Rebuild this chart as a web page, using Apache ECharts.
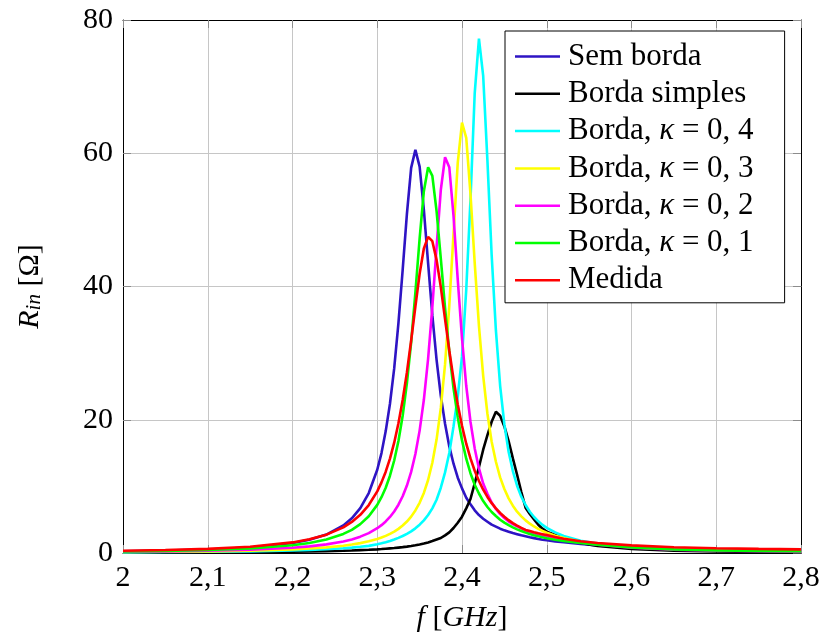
<!DOCTYPE html>
<html>
<head>
<meta charset="utf-8">
<script src="https://cdn.jsdelivr.net/npm/echarts@6/dist/echarts.min.js"></script>
<style>
  html, body { margin: 0; background: #fff; }
  #chart { width: 824px; height: 639px; }
</style>
</head>
<body>
<div id="chart"></div>
<script>
  // frequency samples [GHz]
  const freq = [2.00, 2.05, 2.10, 2.15, 2.20, 2.22, 2.24, 2.26, 2.27, 2.28, 2.29,
    2.30, 2.305, 2.31, 2.315, 2.32, 2.325, 2.33, 2.335, 2.34, 2.345,
    2.35, 2.355, 2.36, 2.365, 2.37, 2.375, 2.38, 2.385, 2.39, 2.395,
    2.40, 2.405, 2.41, 2.415, 2.42, 2.425, 2.43, 2.435, 2.44, 2.445,
    2.45, 2.455, 2.46, 2.465, 2.47, 2.475, 2.48, 2.485, 2.49, 2.495,
    2.50, 2.51, 2.52, 2.54, 2.56, 2.60, 2.65, 2.70, 2.75, 2.80]

  // R_in [ohm]
  const semBorda = [0.27, 0.37, 0.53, 0.83, 1.49, 1.98, 2.77, 4.13, 5.2, 6.73, 9.0,
    12.5, 15.0, 18.3, 22.4, 27.7, 34.5, 42.5, 50.9, 57.8, 60.5,
    58.0, 51.5, 43.5, 35.7, 29.0, 23.6, 19.4, 16.0, 13.4, 11.3,
    9.7, 8.3, 7.3, 6.4, 5.7, 5.15, 4.7, 4.25, 3.95, 3.65,
    3.4, 3.2, 3.0, 2.83, 2.65, 2.5, 2.35, 2.23, 2.11, 2.0,
    1.92, 1.75, 1.62, 1.35, 1.14, 0.75, 0.48, 0.34, 0.26, 0.2]
  const bordaSimples = [0.06, 0.08, 0.1, 0.13, 0.19, 0.23, 0.28, 0.34, 0.38, 0.43, 0.48,
    0.55, 0.59, 0.64, 0.69, 0.74, 0.81, 0.88, 0.96, 1.05, 1.16,
    1.28, 1.42, 1.59, 1.79, 2.02, 2.25, 2.65, 3.1, 3.75, 4.55,
    5.45, 6.7, 8.1, 10.45, 12.9, 15.5, 17.7, 19.7, 21.2, 20.6,
    19.0, 16.8, 14.2, 11.75, 9.15, 6.8, 5.85, 5.05, 4.25, 3.65,
    3.2, 2.72, 2.3, 1.5, 1.05, 0.62, 0.36, 0.24, 0.17, 0.12]
  const kappa04 = [0.1, 0.14, 0.18, 0.25, 0.38, 0.46, 0.57, 0.71, 0.81, 0.93, 1.07,
    1.3, 1.45, 1.62, 1.8, 2.02, 2.27, 2.55, 2.88, 3.25, 3.7,
    4.25, 4.9, 5.7, 6.7, 8.0, 9.8, 12.1, 15.0, 19.0, 23.5,
    29.5, 39.5, 53.0, 69.0, 77.2, 71.6, 58.9, 44.7, 33.4, 25.1,
    19.3, 15.2, 12.3, 10.1, 8.45, 7.2, 6.2, 5.4, 4.75, 4.22,
    3.78, 3.1, 2.55, 1.85, 1.42, 0.92, 0.6, 0.45, 0.35, 0.3]
  const kappa03 = [0.14, 0.18, 0.24, 0.35, 0.54, 0.67, 0.84, 1.1, 1.27, 1.48, 1.75,
    2.1, 2.32, 2.57, 2.87, 3.21, 3.62, 4.12, 4.72, 5.46, 6.38,
    7.53, 9.02, 10.96, 13.54, 17.02, 21.78, 28.3, 37.1, 47.9, 58.6,
    64.6, 62.3, 53.9, 43.5, 34.1, 26.6, 20.9, 16.7, 13.7, 11.35,
    9.6, 8.2, 7.1, 6.2, 5.5, 4.9, 4.4, 3.98, 3.62, 3.31,
    3.04, 2.6, 2.25, 1.7, 1.35, 0.88, 0.58, 0.44, 0.35, 0.3]
  const kappa02 = [0.18, 0.24, 0.33, 0.49, 0.79, 0.99, 1.29, 1.73, 2.04, 2.45, 2.99,
    3.72, 4.18, 4.74, 5.41, 6.23, 7.25, 8.52, 10.12, 12.17, 14.85,
    18.37, 23.0, 29.15, 36.9, 45.9, 54.5, 59.4, 57.9, 50.6, 41.0,
    32.2, 25.1, 19.7, 15.7, 12.69, 10.42, 8.9, 7.57, 6.6, 5.84,
    5.24, 4.72, 4.34, 3.99, 3.7, 3.41, 3.16, 2.95, 2.76, 2.6,
    2.45, 2.16, 1.92, 1.54, 1.24, 0.8, 0.5, 0.36, 0.28, 0.22]
  const kappa01 = [0.23, 0.32, 0.45, 0.68, 1.16, 1.5, 2.02, 2.86, 3.48, 4.33, 5.51,
    7.22, 8.37, 9.8, 11.6, 13.88, 16.8, 20.6, 25.5, 31.6, 39.1,
    47.2, 54.3, 57.9, 56.6, 51.3, 44.2, 36.8, 30.2, 24.7, 20.35,
    16.9, 14.15, 11.98, 10.24, 8.93, 7.8, 6.9, 6.15, 5.55, 5.0,
    4.55, 4.18, 3.85, 3.55, 3.3, 3.06, 2.85, 2.67, 2.5, 2.35,
    2.22, 1.99, 1.8, 1.5, 1.25, 0.85, 0.55, 0.4, 0.32, 0.27]
  const medida = [0.33, 0.44, 0.62, 0.94, 1.59, 2.06, 2.75, 3.85, 4.66, 5.73, 7.2,
    9.25, 10.6, 12.2, 14.17, 16.56, 19.47, 22.97, 27.1, 31.9, 37.0,
    41.9, 45.7, 47.45, 46.8, 44.0, 39.9, 35.1, 30.4, 26.1, 22.3,
    19.1, 16.4, 14.2, 12.34, 10.8, 9.5, 8.41, 7.48, 6.7, 6.02,
    5.44, 4.93, 4.49, 4.11, 3.77, 3.47, 3.3, 3.12, 2.95, 2.82,
    2.69, 2.39, 2.15, 1.77, 1.5, 1.14, 0.87, 0.72, 0.62, 0.55]

  const names = ['Sem borda', 'Borda simples', 'Borda, κ = 0, 4', 'Borda, κ = 0, 3',
    'Borda, κ = 0, 2', 'Borda, κ = 0, 1', 'Medida']
  const colors = ['#2e14c4', '#000000', '#00ffff', '#ffff00', '#ff00ff', '#00ff00', '#ff0000']
  const values = [semBorda, bordaSimples, kappa04, kappa03, kappa02, kappa01, medida]

  const FONT = 'Liberation Serif'
  const GRID_COLOR = '#c6c6c6'

  let series = values.map((v, i) => ({
    type: 'line',
    name: names[i],
    data: freq.map((f, j) => [f, v[j]]),
    color: colors[i],
    showSymbol: false,
    symbol: 'none',
    smooth: false,
    lineStyle: { width: 2.6, color: colors[i] },
    itemStyle: { color: colors[i] },
    z: 3 + i
  }))

  let tick = { show: true, inside: true, length: 8, lineStyle: { color: '#8c8c8c', width: 1 } }
  let frame = { show: true, onZero: false, lineStyle: { color: '#000', width: 1 } }

  let chart = echarts.init(document.getElementById('chart'))
  chart.setOption({
    animation: false,
    backgroundColor: '#fff',
    grid: { left: 123, right: 23, top: 20, bottom: 86, containLabel: false },
    legend: {
      left: 505,
      top: 31,
      orient: 'vertical',
      data: names,
      icon: 'rect',
      itemWidth: 45,
      itemHeight: 2.5,
      itemGap: 6.3,
      padding: [10, 31, 7, 10],
      borderColor: '#000',
      borderWidth: 1,
      backgroundColor: '#fff',
      selectedMode: false,
      formatter: name => name.replace('κ', '{k|κ}'),
      textStyle: {
        fontFamily: FONT,
        fontSize: 31,
        lineHeight: 30,
        color: '#000',
        padding: [0, 0, 0, 3],
        rich: {
          k: { fontFamily: FONT, fontSize: 31, fontStyle: 'italic', color: '#000', lineHeight: 30 }
        }
      }
    },
    xAxis: [{
      type: 'value',
      min: 2,
      max: 2.8,
      interval: 0.1,
      name: '{i|f} [{i|GHz}]',
      nameLocation: 'middle',
      nameGap: 50,
      nameTextStyle: {
        fontFamily: FONT, fontSize: 30, color: '#000',
        rich: { i: { fontFamily: FONT, fontSize: 30, fontStyle: 'italic', color: '#000' } }
      },
      axisLine: frame,
      axisTick: tick,
      axisLabel: {
        margin: 10,
        fontFamily: FONT,
        fontSize: 30,
        color: '#000',
        formatter: v => String(Math.round(v * 10) / 10).replace('.', ',')
      },
      splitLine: { show: true, showMinLine: false, showMaxLine: false, lineStyle: { color: GRID_COLOR, width: 1 } }
    }, {
      type: 'value',
      position: 'top',
      min: 2,
      max: 2.8,
      interval: 0.1,
      axisLine: frame,
      axisTick: tick,
      axisLabel: { show: false },
      splitLine: { show: false }
    }],
    yAxis: [{
      type: 'value',
      min: 0,
      max: 80,
      interval: 20,
      name: '{i|R}{s|in} [Ω]',
      nameLocation: 'middle',
      nameRotate: 90,
      nameGap: 78,
      nameTextStyle: {
        fontFamily: FONT, fontSize: 30, color: '#000', lineHeight: 30,
        rich: {
          i: { fontFamily: FONT, fontSize: 30, fontStyle: 'italic', color: '#000', lineHeight: 30 },
          s: { fontFamily: FONT, fontSize: 21, fontStyle: 'italic', color: '#000', lineHeight: 14, verticalAlign: 'bottom' }
        }
      },
      axisLine: frame,
      axisTick: tick,
      axisLabel: { margin: 10, fontFamily: FONT, fontSize: 30, color: '#000' },
      splitLine: { show: true, showMinLine: false, showMaxLine: false, lineStyle: { color: GRID_COLOR, width: 1 } }
    }, {
      type: 'value',
      position: 'right',
      min: 0,
      max: 80,
      interval: 20,
      axisLine: frame,
      axisTick: tick,
      axisLabel: { show: false },
      splitLine: { show: false }
    }],
    series: series
  })
</script>
</body>
</html>
